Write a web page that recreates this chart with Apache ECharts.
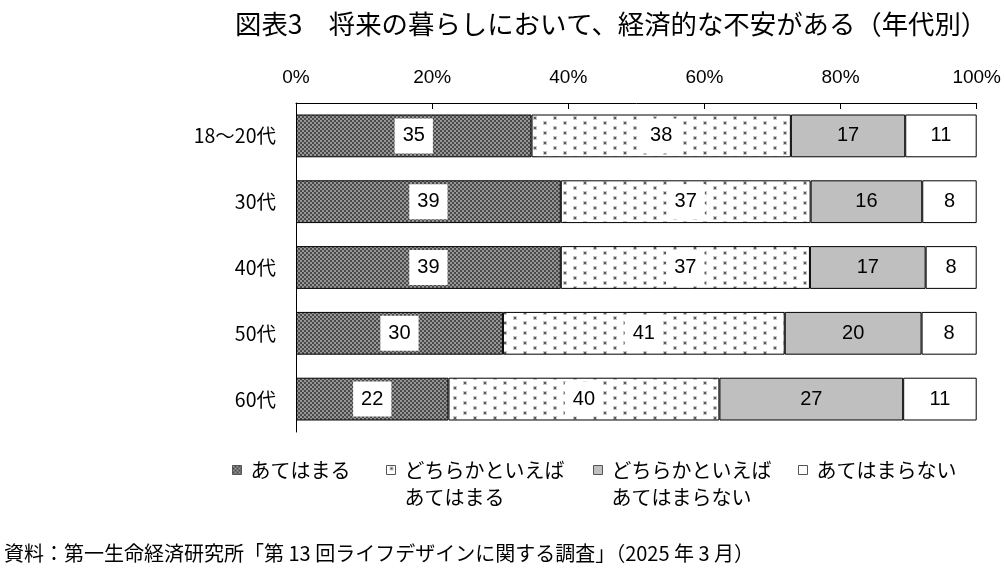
<!DOCTYPE html>
<html>
<head>
<meta charset="utf-8">
<script src="https://cdn.jsdelivr.net/npm/echarts@6/dist/echarts.min.js"></script>
<style>
html,body{margin:0;padding:0;background:#fff;}
#chart{width:1004px;height:577px;}
</style>
</head>
<body>
<div id="chart"></div>
<script>
// ---- data ----
const categories = ['18〜20代', '30代', '40代', '50代', '60代'];
const seriesNames = ['あてはまる', 'どちらかといえば\nあてはまる', 'どちらかといえば\nあてはまらない', 'あてはまらない'];
const vApplies      = [34.6, 38.9, 38.9, 30.4, 22.4];
const vSomewhatYes  = [38.1, 36.7, 36.6, 41.4, 39.8];
const vSomewhatNo   = [16.8, 16.4, 17.0, 20.1, 27.0];
const vNotApply     = [10.5, 8.0, 7.5, 8.1, 10.8];
const xTicks = [0, 20, 40, 60, 80, 100];
const titleText = '図表3　将来の暮らしにおいて、経済的な不安がある（年代別）';
const sourceText = '資料：第一生命経済研究所「第 13 回ライフデザインに関する調査」（2025 年 3 月）';

// ---- patterns ----
function checker() {
  const c = document.createElement('canvas');
  c.width = 4; c.height = 4;
  const g = c.getContext('2d');
  g.fillStyle = '#4a4a4a'; g.fillRect(0, 0, 4, 4);
  g.fillStyle = '#969696';
  g.fillRect(0, 0, 2, 2); g.fillRect(2, 2, 2, 2);
  return c;
}
function dots() {
  const c = document.createElement('canvas');
  c.width = 20; c.height = 10;
  const g = c.getContext('2d');
  g.fillStyle = '#fff'; g.fillRect(0, 0, 20, 10);
  g.fillStyle = '#c8c8c8';
  g.fillRect(3, 1, 4, 4); g.fillRect(13, 6, 4, 4);
  g.fillStyle = '#5a5a5a';
  g.fillRect(4, 2, 2, 2); g.fillRect(14, 7, 2, 2);
  return c;
}
const fills = [
  { image: checker(), repeat: 'repeat' },
  { image: dots(), repeat: 'repeat' },
  '#bfbfbf',
  '#ffffff'
];
const valueSets = [vApplies, vSomewhatYes, vSomewhatNo, vNotApply];

const numFont = '"Liberation Sans Narrow", "Arial Narrow", sans-serif';
const jpFont = '"Noto Sans CJK JP", sans-serif';

const series = seriesNames.map((name, i) => ({
  name: name,
  type: 'bar',
  stack: 'total',
  barWidth: '65%',
  data: valueSets[i],
  itemStyle: { color: fills[i], borderColor: '#000', borderWidth: 1 },
  label: {
    show: true,
    position: 'inside',
    formatter: p => String(Math.round(p.value)),
    fontFamily: numFont,
    fontSize: 20,
    color: '#000',
    backgroundColor: i < 2 ? '#fff' : 'transparent',
    padding: i < 2 ? [8, 8, 7, 8] : 0
  },
  emphasis: { disabled: true }
}));

const legendPos = [232, 386, 593, 798];
const legends = seriesNames.map((name, i) => {
  const multi = name.indexOf('\n') >= 0;
  return {
    data: [name],
    left: legendPos[i],
    top: multi ? 429.5 : 456.5,
    padding: 0,
    itemWidth: 9,
    itemHeight: 9,
    itemGap: 0,
    selectedMode: false,
    icon: 'rect',
    formatter: n => (n.indexOf('\n') >= 0 ? ' \n' + n : n),
    itemStyle: { borderColor: '#555', borderWidth: 1 },
    textStyle: {
      fontFamily: jpFont,
      fontSize: 20,
      color: '#000',
      lineHeight: 27,
      padding: [0, 0, 0, 4]
    }
  };
});

const chart = echarts.init(document.getElementById('chart'), null, { renderer: 'canvas' });
chart.setOption({
  backgroundColor: '#fff',
  animation: false,
  title: {
    text: titleText,
    left: 230,
    top: 6,
    textStyle: { fontFamily: jpFont, fontSize: 26.4, fontWeight: 'normal', color: '#000' }
  },
  legend: legends,
  grid: { left: 296, right: 27, top: 103, bottom: 145 },
  xAxis: {
    type: 'value',
    position: 'top',
    min: xTicks[0],
    max: xTicks[xTicks.length - 1],
    interval: xTicks[1] - xTicks[0],
    axisLine: { show: true, lineStyle: { color: '#000', width: 1 } },
    axisTick: { show: true, inside: true, length: 6, lineStyle: { color: '#000' } },
    splitLine: { show: false },
    axisLabel: { formatter: '{value}%', fontFamily: numFont, fontSize: 19, color: '#000', margin: 16 }
  },
  yAxis: {
    type: 'category',
    inverse: true,
    data: categories,
    axisLine: { show: true, lineStyle: { color: '#000', width: 1 } },
    axisTick: { show: false },
    axisLabel: { fontFamily: jpFont, fontSize: 19.5, color: '#000', margin: 20 }
  },
  series: series,
  graphic: [{
    type: 'text',
    left: 4,
    top: 543,
    style: { text: sourceText, font: '20px "Noto Sans CJK JP", sans-serif', fill: '#000' }
  }]
});
</script>
</body>
</html>
